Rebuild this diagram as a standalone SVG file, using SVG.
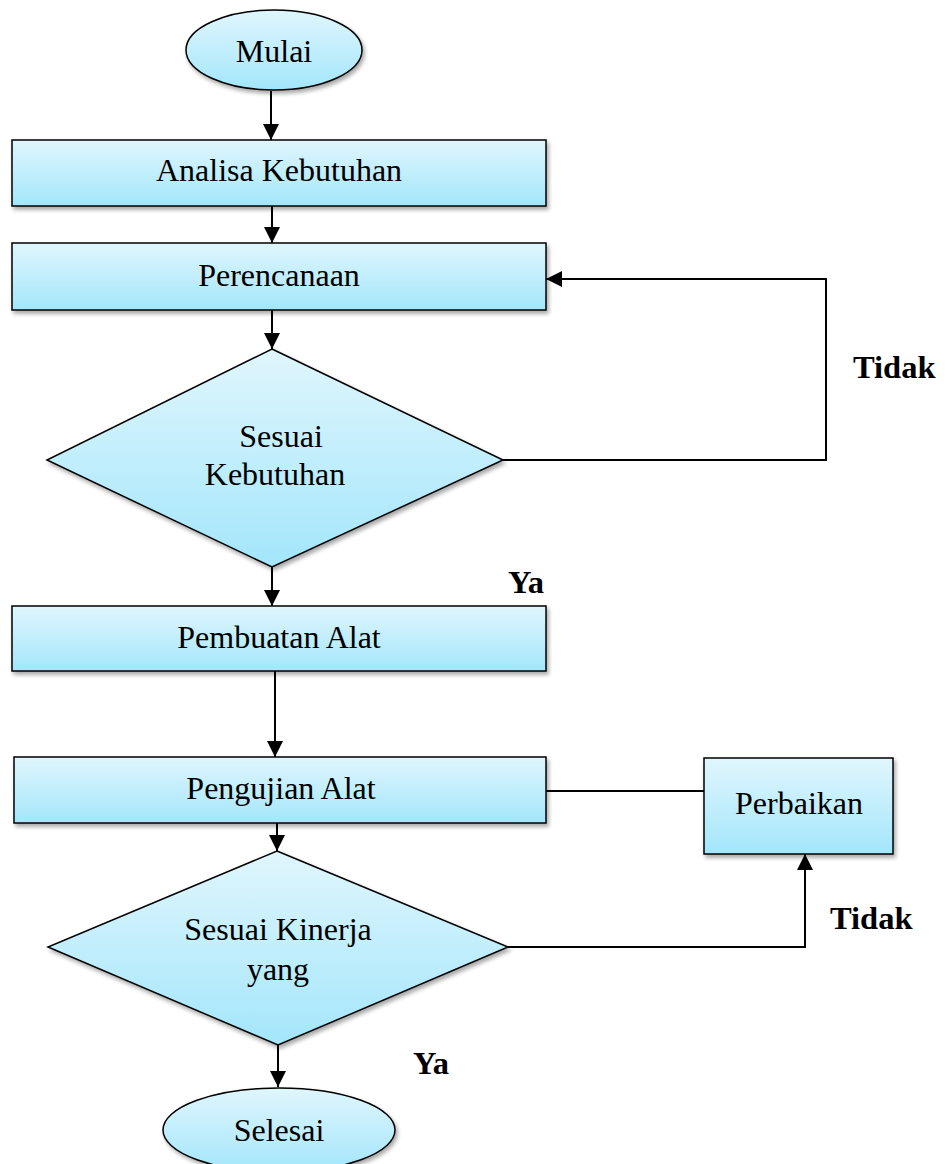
<svg xmlns="http://www.w3.org/2000/svg" width="946" height="1164" viewBox="0 0 946 1164">
<defs>
<linearGradient id="g" x1="0" y1="0" x2="0" y2="1">
<stop offset="0" stop-color="#e0f6fd"/>
<stop offset="1" stop-color="#a3e6fb"/>
</linearGradient>
<filter id="sh" x="-10%" y="-10%" width="130%" height="130%">
<feGaussianBlur in="SourceAlpha" stdDeviation="2"/>
<feOffset dx="2" dy="3" result="b"/>
<feComponentTransfer><feFuncA type="linear" slope="0.35"/></feComponentTransfer>
<feMerge><feMergeNode/><feMergeNode in="SourceGraphic"/></feMerge>
</filter>
<marker id="ahb" viewBox="0 0 10 10" refX="10" refY="5" markerWidth="16" markerHeight="16" markerUnits="userSpaceOnUse" orient="auto">
<path d="M0,0 L10,5 L0,10 z" fill="#000"/>
</marker>
</defs>
<style>
.n{fill:url(#g);stroke:#000;stroke-width:1.5;filter:url(#sh)}
.t{font-family:"Liberation Serif","Times New Roman",serif;font-size:32px;fill:#000;text-anchor:middle}
.b{font-family:"Liberation Serif","Times New Roman",serif;font-size:32.5px;font-weight:bold;fill:#000}
.c{fill:none;stroke:#000;stroke-width:2}
</style>
<rect width="946" height="1164" fill="#fff"/>
<g id="connectors">
<line class="c" x1="271" y1="91" x2="271" y2="140" marker-end="url(#ahb)"/>
<line class="c" x1="272" y1="206" x2="272" y2="243" marker-end="url(#ahb)"/>
<line class="c" x1="272" y1="310" x2="272" y2="349" marker-end="url(#ahb)"/>
<polyline class="c" points="503,460 826,460 826,279 546,279" marker-end="url(#ahb)"/>
<line class="c" x1="272" y1="567" x2="272" y2="606" marker-end="url(#ahb)"/>
<line class="c" x1="275" y1="671" x2="275" y2="757" marker-end="url(#ahb)"/>
<line class="c" x1="546" y1="791" x2="704" y2="791"/>
<line class="c" x1="277" y1="823" x2="277" y2="851" marker-end="url(#ahb)"/>
<polyline class="c" points="508,947 805,947 805,854" marker-end="url(#ahb)"/>
<line class="c" x1="278" y1="1045" x2="278" y2="1087" marker-end="url(#ahb)"/>
</g>
<g id="mulai">
<ellipse class="n" cx="274" cy="50" rx="88" ry="40"/>
<text class="t" x="274" y="62">Mulai</text>
</g>
<g id="analisa">
<rect class="n" x="12" y="140" width="534" height="66"/>
<text class="t" x="279" y="181">Analisa Kebutuhan</text>
</g>
<g id="perencanaan">
<rect class="n" x="12" y="243" width="534" height="67"/>
<text class="t" x="279" y="286">Perencanaan</text>
</g>
<g id="sesuai-kebutuhan">
<polygon class="n" points="272,349 503,460 272,567 47,460"/>
<text class="t" x="281" y="447">Sesuai</text>
<text class="t" x="275" y="485">Kebutuhan</text>
</g>
<g id="pembuatan">
<rect class="n" x="12" y="606" width="534" height="65"/>
<text class="t" x="279" y="648">Pembuatan Alat</text>
</g>
<g id="pengujian">
<rect class="n" x="14" y="757" width="532" height="66"/>
<text class="t" x="281" y="799">Pengujian Alat</text>
</g>
<g id="perbaikan">
<rect class="n" x="704" y="758" width="189" height="96"/>
<text class="t" x="799" y="814">Perbaikan</text>
</g>
<g id="sesuai-kinerja">
<polygon class="n" points="277,851 508,947 278,1045 48,947"/>
<text class="t" x="278" y="940">Sesuai Kinerja</text>
<text class="t" x="278" y="980">yang</text>
</g>
<g id="selesai">
<ellipse class="n" cx="279" cy="1130" rx="116" ry="42"/>
<text class="t" x="279" y="1141">Selesai</text>
</g>
<g id="labels">
<text class="b" x="853" y="378">Tidak</text>
<text class="b" x="508" y="593">Ya</text>
<text class="b" x="830" y="929">Tidak</text>
<text class="b" x="413" y="1074">Ya</text>
</g>
</svg>
